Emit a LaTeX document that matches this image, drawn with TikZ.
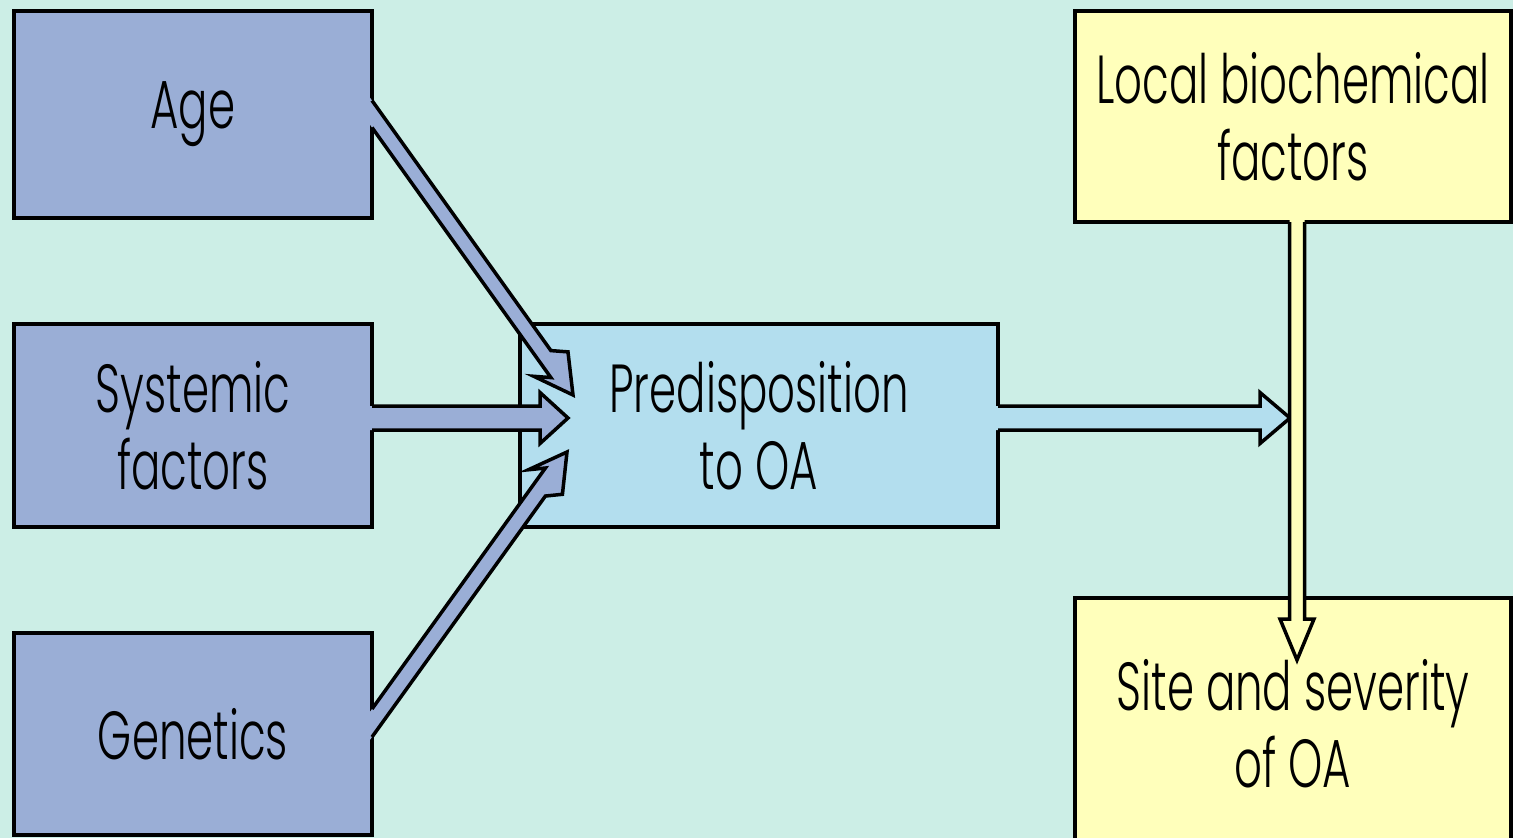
\documentclass[tikz,border=0pt]{standalone}
\usepackage{fontspec}
\setmainfont{Poppins Light}[FakeStretch=0.64]
\usetikzlibrary{calc}

\definecolor{bgcol}{HTML}{CCEEE6}
\definecolor{causecol}{HTML}{9AAED6}
\definecolor{predcol}{HTML}{B3DEEE}
\definecolor{localcol}{HTML}{FFFFBB}

% block arrow: #1 fill, #2 start, #3 tip, #4 half shaft offset, #5 head length, #6 head half width
\newcommand{\fatarrow}[6]{%
  \coordinate (hb) at ($(#3)!#5!(#2)$);
  \coordinate (sb) at ($(#2)!-4pt!(#3)$);
  \fill[#1] ($(sb)-(#4)$) -- ($(hb)-(#4)$) -- ($(hb)!#6!90:(#3)$) -- (#3)
    -- ($(hb)!#6!-90:(#3)$) -- ($(hb)+(#4)$) -- ($(sb)+(#4)$) -- cycle;
  \draw[line width=3.5pt] ($(#2)-(#4)$) -- ($(hb)-(#4)$) -- ($(hb)!#6!90:(#3)$) -- (#3)
    -- ($(hb)!#6!-90:(#3)$) -- ($(hb)+(#4)$) -- ($(#2)+(#4)$);
}

\begin{document}
\begin{tikzpicture}[x=1pt,y=-1pt]
    \path[clip] (0,0) rectangle (1513,838);
    \fill[bgcol] (0,0) rectangle (1513,838);
    \begin{scope}
        \tikzstyle{every node}=[rectangle, draw=black, line width=3.5pt, outer sep=0pt, inner sep=0pt,
            align=center, text=black, font=\fontsize{68}{77}\selectfont]
        \node[fill=causecol, minimum width=358, minimum height=207] (age) at (193,114.5) {Age};
        \node[fill=causecol, minimum width=358, minimum height=203] (systemic) at (193,425.5) {Systemic\\factors};
        \node[fill=causecol, minimum width=358, minimum height=202] (genetics) at (193,734) {Genetics};
        \node[fill=predcol, minimum width=478, minimum height=203] (predisp) at (759,425.5) {Predisposition\\to OA};
        \node[fill=localcol, minimum width=436, minimum height=211] (local) at (1293,116.5) {Local biochemical\\factors};
        \node[fill=localcol, minimum width=436, minimum height=252] (site) at (1293,724) {Site and severity\\of OA};
    \end{scope}
    \begin{scope}
        \coordinate (agefrom) at ($(age.east)+(0,-0.5)$);
        \coordinate (agetip) at ($(predisp.west)+(53,-30.5)$);
        \coordinate (sysfrom) at ($(systemic.east)+(0,-7.5)$);
        \coordinate (systip) at ($(predisp.west)+(48,-7.5)$);
        \coordinate (genfrom) at ($(genetics.east)+(0,-11)$);
        \coordinate (gentip) at ($(predisp.west)+(47,26.5)$);
        \coordinate (predfrom) at ($(predisp.east)+(0,-7.5)$);
        \coordinate (predtip) at ($(predisp.east -| local.south)+(-3,-7.5)$);
        \coordinate (localfrom) at ($(local.south)+(4,0)$);
        \coordinate (localtip) at ($(site.north)+(4,62)$);
        \fatarrow{causecol}{agefrom}{agetip}{0,13.5}{38pt}{21pt}
        \fatarrow{causecol}{genfrom}{gentip}{0,14}{37pt}{21pt}
        \fatarrow{causecol}{sysfrom}{systip}{0,12}{28pt}{25.5pt}
        \fatarrow{predcol}{predfrom}{predtip}{0,12}{30pt}{25.5pt}
        \fatarrow{localcol}{localfrom}{localtip}{-7.5,0}{41pt}{17pt}
    \end{scope}
\end{tikzpicture}
\end{document}
